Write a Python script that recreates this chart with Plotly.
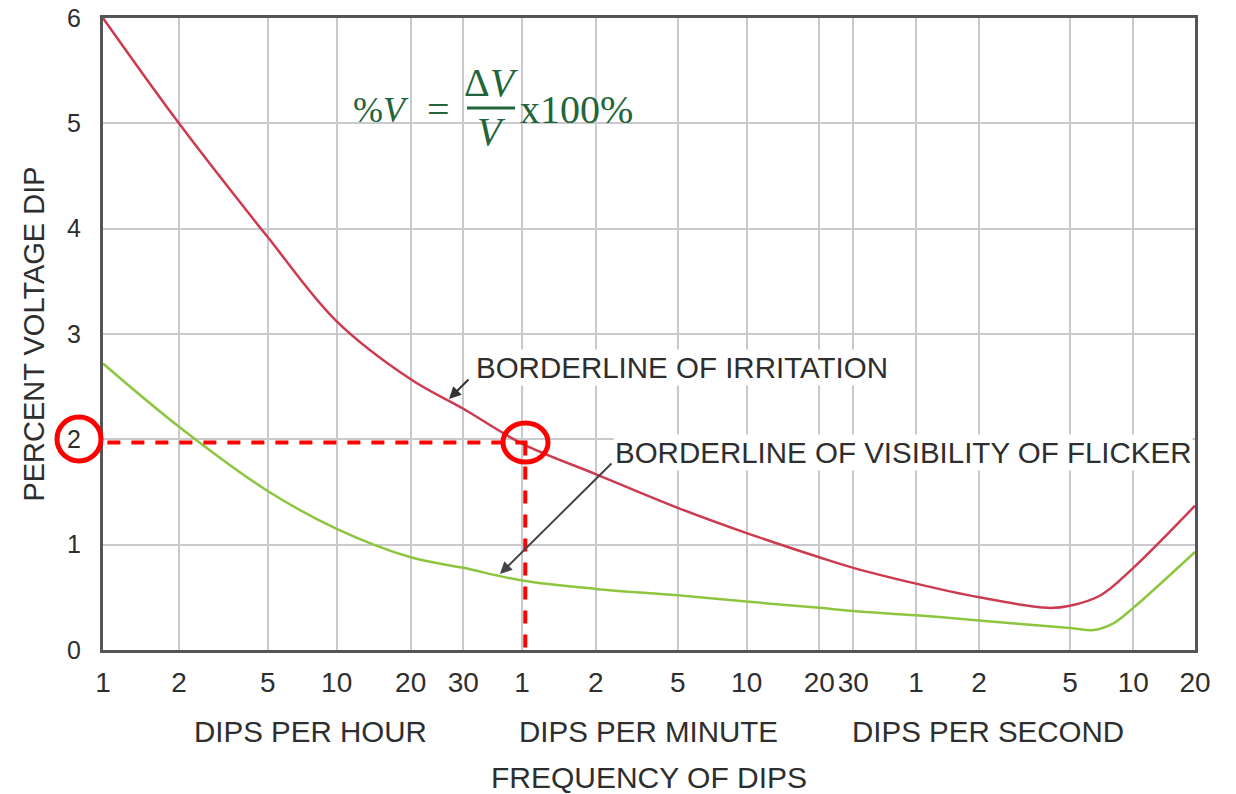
import numpy as np
import plotly.graph_objects as go

# ---------------- data ----------------
# x ticks: frequency of dips expressed in dips per hour
TICK_FREQ = [1, 2, 5, 10, 20, 30, 60, 120, 300, 600, 1200, 1800, 3600, 7200, 18000, 36000, 72000]
TICK_LABELS = ["1", "2", "5", "10", "20", "30", "1", "2", "5", "10", "20", "30", "1", "2", "5", "10", "20"]
Y_TICKS = [0, 1, 2, 3, 4, 5, 6]

# Borderline of irritation (percent voltage dip vs dips per hour)
IRR_FREQ = [1, 2, 5, 10, 20, 30, 60, 120, 300, 600, 1200, 1800, 3600, 7200, 14400, 18000, 25200, 36000, 72000]
IRR_PCT = [6.0, 5.0, 3.92, 3.12, 2.57, 2.29, 1.96, 1.67, 1.35, 1.11, 0.88, 0.78, 0.63, 0.50, 0.40, 0.42, 0.52, 0.78, 1.37]

# Borderline of visibility of flicker
VIS_FREQ = [1, 2, 5, 10, 20, 30, 60, 120, 300, 600, 1200, 1800, 3600, 7200, 18000, 23400, 28800, 36000, 72000]
VIS_PCT = [2.72, 2.12, 1.51, 1.15, 0.88, 0.78, 0.66, 0.58, 0.52, 0.46, 0.40, 0.37, 0.33, 0.28, 0.21, 0.19, 0.25, 0.40, 0.93]

MARK_FREQ = 60     # 1 dip per minute
MARK_PCT = 2       # 2 % voltage dip

# ---------------- layout constants ----------------
W, H = 1236, 794
L, R, T, B = 103, 41, 18, 144
PLOT_W = W - L - R
PLOT_H = H - T - B
# the original chart's frequency axis is a hand-drawn log scale: tick positions (fraction of axis width)
TICK_POS_PX = [103, 179, 267.7, 336.7, 410.7, 463.3, 522, 595.7, 677.7, 746.7, 819.3, 853.3, 916, 979, 1070, 1133.3, 1195]
TICK_POS = [(p - L) / PLOT_W for p in TICK_POS_PX]


def xpos(freq):
    return np.interp(np.log10(np.asarray(freq, dtype=float)), np.log10(TICK_FREQ), TICK_POS)


def px_x(p):
    return (p - L) / PLOT_W


def px_y(p):  # data y from pixel
    return (H - B - p) / PLOT_H * 6


RED = "#cc3b4f"
GREEN = "#8cc63f"
TXT = "#2e2e2e"
SANS = "Liberation Sans, Arial, sans-serif"
SERIF = "Liberation Serif, Times New Roman, serif"
FORM = "#22653a"
FS = 29.5

fig = go.Figure()
fig.add_trace(go.Scatter(x=xpos(VIS_FREQ), y=VIS_PCT, mode="lines",
                         line=dict(color=GREEN, width=2.5, shape="spline", smoothing=1.0),
                         name="Borderline of visibility of flicker", showlegend=False))
fig.add_trace(go.Scatter(x=xpos(IRR_FREQ), y=IRR_PCT, mode="lines",
                         line=dict(color=RED, width=2.5, shape="spline", smoothing=1.0),
                         name="Borderline of irritation", showlegend=False))

mx = float(xpos(MARK_FREQ)) + 0.003
my = MARK_PCT - 0.03
shapes = [
    dict(type="line", xref="x", yref="y", x0=0.004, x1=mx + 0.002, y0=my, y1=my,
         line=dict(color="#ff0000", width=4, dash="13px,11px")),
    dict(type="line", xref="x", yref="y", x0=mx, x1=mx, y0=my, y1=0,
         line=dict(color="#ff0000", width=4, dash="13px,11px")),
    dict(type="circle", xref="paper", yref="paper",
         x0=px_x(57), x1=px_x(101), y0=(H - B - 461) / PLOT_H, y1=(H - B - 417) / PLOT_H,
         line=dict(color="#ff0000", width=5)),
    dict(type="circle", xref="x", yref="y",
         x0=px_x(503), x1=px_x(548), y0=px_y(462), y1=px_y(423),
         line=dict(color="#ff0000", width=5)),
    dict(type="line", xref="x", yref="y", x0=px_x(467), x1=px_x(515), y0=px_y(108), y1=px_y(108),
         line=dict(color=FORM, width=3)),
]

ann = [
    # curve labels
    dict(x=px_x(474), y=px_y(367), xref="x", yref="y", text="BORDERLINE OF IRRITATION",
         showarrow=False, xanchor="left", yanchor="middle", bgcolor="white",
         font=dict(family=SANS, size=FS, color=TXT)),
    dict(x=px_x(613), y=px_y(452), xref="x", yref="y", text="BORDERLINE OF VISIBILITY OF FLICKER",
         showarrow=False, xanchor="left", yanchor="middle", bgcolor="white",
         font=dict(family=SANS, size=FS, color=TXT)),
    # arrows
    dict(x=px_x(449), y=px_y(399), xref="x", yref="y", text="", showarrow=True,
         ax=21, ay=-21, arrowhead=2, arrowsize=1.2, arrowwidth=2, arrowcolor="#333333"),
    dict(x=px_x(500), y=px_y(574), xref="x", yref="y", text="", showarrow=True,
         ax=113, ay=-112, arrowhead=2, arrowsize=1.2, arrowwidth=2, arrowcolor="#444444"),
    # group labels under the axis
    dict(x=px_x(310), y=(H - B - 731) / PLOT_H, xref="paper", yref="paper", text="DIPS PER HOUR",
         showarrow=False, xanchor="center", yanchor="middle", font=dict(family=SANS, size=FS, color=TXT)),
    dict(x=px_x(648), y=(H - B - 731) / PLOT_H, xref="paper", yref="paper", text="DIPS PER MINUTE",
         showarrow=False, xanchor="center", yanchor="middle", font=dict(family=SANS, size=FS, color=TXT)),
    dict(x=px_x(988), y=(H - B - 731) / PLOT_H, xref="paper", yref="paper", text="DIPS PER SECOND",
         showarrow=False, xanchor="center", yanchor="middle", font=dict(family=SANS, size=FS, color=TXT)),
    # formula
    dict(x=px_x(411), y=px_y(110), xref="x", yref="y", text="%<i>V</i>", showarrow=False,
         xanchor="right", yanchor="middle", font=dict(family=SERIF, size=36, color=FORM)),
    dict(x=px_x(438), y=px_y(109), xref="x", yref="y", text="=", showarrow=False,
         xanchor="center", yanchor="middle", font=dict(family=SERIF, size=40, color=FORM)),
    dict(x=px_x(491), y=px_y(82), xref="x", yref="y", text="Δ<i>V</i>", showarrow=False,
         xanchor="center", yanchor="middle", font=dict(family=SERIF, size=40, color=FORM)),
    dict(x=px_x(491), y=px_y(131), xref="x", yref="y", text="<i>V</i>", showarrow=False,
         xanchor="center", yanchor="middle", font=dict(family=SERIF, size=40, color=FORM)),
    dict(x=px_x(518), y=px_y(109), xref="x", yref="y", text="x100%", showarrow=False,
         xanchor="left", yanchor="middle", font=dict(family=SERIF, size=40, color=FORM)),
]

axis_common = dict(showgrid=True, gridcolor="#c9c9cd", gridwidth=2, zeroline=False,
                   showline=True, mirror=True, linecolor="#555555", linewidth=3, ticks="")

fig.update_layout(
    width=W, height=H,
    margin=dict(l=L, r=R, t=T, b=B, autoexpand=False),
    paper_bgcolor="white", plot_bgcolor="white",
    xaxis=dict(range=[0, 1], tickmode="array", tickvals=TICK_POS, ticktext=TICK_LABELS,
               tickfont=dict(family=SANS, size=28, color=TXT), ticklabelstandoff=5,
               title=dict(text="FREQUENCY OF DIPS", font=dict(family=SANS, size=30, color=TXT), standoff=77),
               **axis_common),
    yaxis=dict(range=[0, 6], tickmode="array", tickvals=Y_TICKS, ticktext=[str(v) for v in Y_TICKS],
               tickfont=dict(family=SANS, size=25, color=TXT), ticklabelstandoff=14,
               title=dict(text="PERCENT VOLTAGE DIP", font=dict(family=SANS, size=29, color=TXT), standoff=14),
               **axis_common),
    shapes=shapes,
    annotations=ann,
    showlegend=False,
)

fig.write_html("out.html")
